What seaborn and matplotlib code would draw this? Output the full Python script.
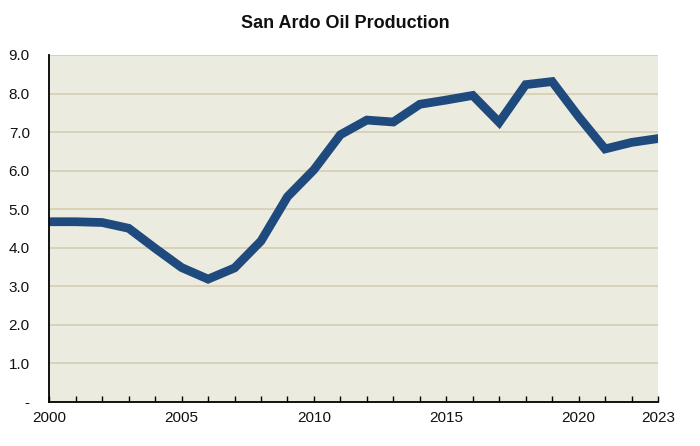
# San Ardo oil production line chart
import numpy as np
import pandas as pd
import matplotlib
matplotlib.use('Agg')
import matplotlib.pyplot as plt
import seaborn as sns

years = list(range(2000, 2024))
production = [4.67, 4.67, 4.65, 4.50, 3.98, 3.48, 3.18, 3.47, 4.17, 5.32,
              6.02, 6.93, 7.31, 7.26, 7.72, 7.83, 7.95, 7.25, 8.23, 8.31,
              7.40, 6.56, 6.73, 6.83]
y_ticks = [0, 1, 2, 3, 4, 5, 6, 7, 8, 9]
y_labels = ['-', '1.0', '2.0', '3.0', '4.0', '5.0', '6.0', '7.0', '8.0', '9.0']
x_labels = [2000, 2005, 2010, 2015, 2020, 2023]

df = pd.DataFrame({'year': years, 'production': production})

sns.set_style('white')
plt.rcParams['font.family'] = ['Liberation Sans', 'DejaVu Sans']
plt.rcParams['text.color'] = '#111111'
plt.rcParams['xtick.labelcolor'] = '#111111'
plt.rcParams['ytick.labelcolor'] = '#111111'

fig = plt.figure(figsize=(7, 4.46), dpi=100)
ax = fig.add_axes([0.0704, 0.0996, 0.8696, 0.7771])
ax.set_facecolor('#ecebe0')

# horizontal grid lines
for v in y_ticks[1:]:
    ax.axhline(v, color='#d6d0b6', lw=1.3, zorder=1)

sns.lineplot(data=df, x='year', y='production', ax=ax, color='#1f4a7e',
             linewidth=6.3, zorder=3, solid_joinstyle='miter')

ax.set_xlim(2000, 2023)
ax.set_ylim(0, 9)
ax.set_yticks(y_ticks)
ax.set_yticklabels(y_labels)
ax.set_xticks(years, minor=True)
ax.set_xticks(x_labels)
ax.set_xticklabels([str(x) for x in x_labels])
ax.tick_params(axis='y', length=0, labelsize=11, pad=14)
ax.tick_params(axis='x', which='both', direction='in', length=4, width=1,
               color='black', labelsize=11, pad=7, bottom=True)
ax.set_xlabel('')
ax.set_ylabel('')

for s in ['top', 'right']:
    ax.spines[s].set_visible(False)
for s in ['left', 'bottom']:
    ax.spines[s].set_color('black')
    ax.spines[s].set_linewidth(1.3)
    ax.spines[s].set_zorder(4)

fig.text(0.493, 0.948, 'San Ardo Oil Production', ha='center', va='center',
         fontsize=13, fontweight='bold', color='#111111')

plt.savefig('out.png', dpi=100)
